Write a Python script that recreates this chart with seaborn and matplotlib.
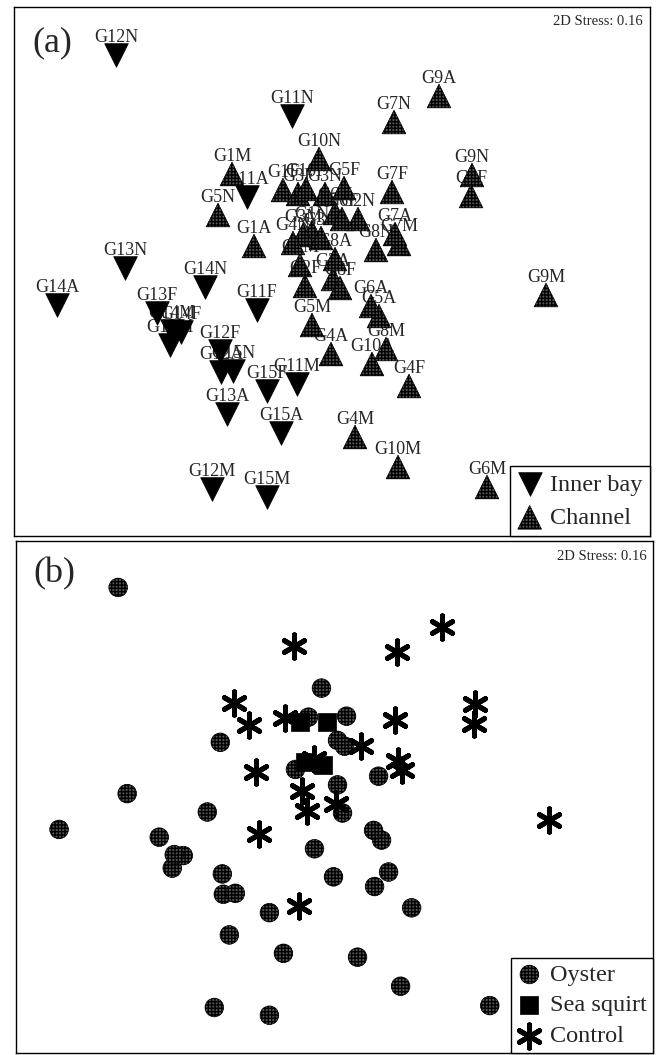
import numpy as np
import pandas as pd
import matplotlib
matplotlib.use("Agg")
import matplotlib.pyplot as plt
import seaborn as sns

# ---------------- data (NMDS coordinates) ----------------
samples = [
    "G11N", "G11A", "G11F", "G11M",
    "G12N", "G12F", "G12M", "G12A",
    "G13N", "G13F", "G13M", "G13A",
    "G14N", "G14F", "G14M", "G14A",
    "G15N", "G15F", "G15M", "G15A",
    "G1N", "G1F", "G1M", "G1A",
    "G2N", "G2F", "G2M", "G2A",
    "G3N", "G3F", "G3M", "G3A",
    "G4N", "G4F", "G4M", "G4A",
    "G5N", "G5F", "G5M", "G5A",
    "G6N", "G6F", "G6M", "G6A",
    "G7N", "G7F", "G7M", "G7A",
    "G8N", "G8F", "G8M", "G8A",
    "G9N", "G9F", "G9M", "G9A",
    "G10N", "G10F", "G10M", "G10A",
]
mds1 = [
    -0.38, -0.83, -0.73, -0.33,
    -2.14, -1.10, -1.18, -1.09,
    -2.05, -1.73, -1.60, -1.03,
    -1.25, -1.49, -1.58, -2.73,
    -0.97, -0.63, -0.63, -0.49,
    -0.18, -0.47, -0.98, -0.76,
    0.28, -0.25, -0.30, 0.03,
    -0.05, -0.32, -0.27, -0.09,
    -0.37, 0.79, 0.25, 0.01,
    -1.12, 0.14, -0.18, 0.49,
    0.05, 0.12, 1.57, 0.41,
    0.64, 0.62, 0.69, 0.65,
    0.46, 0.10, 0.56, 0.05,
    1.42, 1.41, 2.16, 1.09,
    -0.11, -0.24, 0.68, 0.42,
]
mds2 = [
    1.64, 0.83, -0.30, -1.04,
    2.25, -0.71, -2.09, -0.92,
    0.12, -0.33, -0.65, -1.34,
    -0.07, -0.52, -0.51, -0.25,
    -0.91, -1.11, -2.17, -1.53,
    0.48, 0.90, 1.06, 0.34,
    0.61, -0.06, 0.15, 0.01,
    0.86, 0.86, 0.45, 0.42,
    0.37, -1.06, -1.57, -0.74,
    0.65, 0.92, -0.45, -0.36,
    0.67, 0.61, -2.07, -0.26,
    1.58, 0.88, 0.36, 0.46,
    0.30, -0.08, -0.69, 0.21,
    1.05, 0.84, -0.15, 1.84,
    1.21, 0.91, -1.87, -0.84,
]
inner_bay_groups = [11, 12, 13, 14, 15]
control_groups = [1, 2, 7, 9, 11]
sea_squirt_groups = [3]
site_labels = ["Inner bay", "Channel"]
treatment_labels = ["Oyster", "Sea squirt", "Control"]
stress_text = "2D Stress: 0.16"

# ---------------- style ----------------
sns.set_style("white")
plt.rcParams["font.family"] = ["Liberation Serif", "DejaVu Serif"]
plt.rcParams["hatch.linewidth"] = 1.0
plt.rcParams["hatch.color"] = "black"

df = pd.DataFrame({"sample": samples, "MDS1": mds1, "MDS2": mds2})
df["group"] = df["sample"].str.extract(r"G(\d+)")[0].astype(int)
df["site"] = np.where(df["group"].isin(inner_bay_groups), "Inner bay", "Channel")
df["treatment"] = np.select(
    [df["group"].isin(sea_squirt_groups), df["group"].isin(control_groups)],
    ["Sea squirt", "Control"], default="Oyster")

W, H = 660, 1055
fig = plt.figure(figsize=(W / 100, H / 100), dpi=100)
ax_a = fig.add_axes([14 / W, 1 - 536 / H, 636 / W, 529 / H])
ax_b = fig.add_axes([16 / W, 2 / H, 637 / W, 512 / H])

xlim = (-3.16, 3.20)
ylim = (-2.56, 2.73)
GRAY = "#555555"
HATCH = "+++++"

# ---------------- panel (a) ----------------
sns.scatterplot(data=df[df["site"] == "Inner bay"], x="MDS1", y="MDS2", marker="v",
                s=290, color="black", edgecolor="black", linewidth=0.5,
                ax=ax_a, legend=False, zorder=3)
sns.scatterplot(data=df[df["site"] == "Channel"], x="MDS1", y="MDS2", marker="^",
                s=290, color=GRAY, edgecolor="black", linewidth=0.5, hatch=HATCH,
                ax=ax_a, legend=False, zorder=3)
for _, r in df.iterrows():
    ax_a.annotate(r["sample"], (r["MDS1"], r["MDS2"]), xytext=(0, 9.5),
                  textcoords="offset points", ha="center", va="baseline",
                  fontsize=13, zorder=2)

# ---------------- panel (b) ----------------
sns.scatterplot(data=df[df["treatment"] == "Oyster"], x="MDS1", y="MDS2", marker="o",
                s=180, color=GRAY, edgecolor="black", linewidth=0.5, hatch=HATCH,
                ax=ax_b, legend=False, zorder=3)
sns.scatterplot(data=df[df["treatment"] == "Sea squirt"], x="MDS1", y="MDS2", marker="s",
                s=180, color="black", edgecolor="black", linewidth=0.5,
                ax=ax_b, legend=False, zorder=3)
sns.scatterplot(data=df[df["treatment"] == "Control"], x="MDS1", y="MDS2", marker=(6, 2, 0),
                s=280, color="black", edgecolor="black", linewidth=3.6,
                ax=ax_b, legend=False, zorder=4)

# ---------------- decorations ----------------
for ax, tag, tagxy, sxy in [(ax_a, "(a)", (0.060, 0.932), (0.989, 0.972)),
                            (ax_b, "(b)", (0.060, 0.936), (0.990, 0.969))]:
    ax.set_xlim(*xlim)
    ax.set_ylim(*ylim)
    ax.set_xticks([])
    ax.set_yticks([])
    ax.set_xlabel("")
    ax.set_ylabel("")
    for sp in ax.spines.values():
        sp.set_color("black")
        sp.set_linewidth(1.0)
    ax.text(*tagxy, tag, transform=ax.transAxes, ha="center", va="center", fontsize=26)
    ax.text(*sxy, stress_text, transform=ax.transAxes, ha="right", va="center", fontsize=10.5)

leg_kw = dict(loc="lower right", borderaxespad=0, frameon=True, fancybox=False,
              edgecolor="black", framealpha=1, fontsize=17.5, handletextpad=0.35,
              handlelength=1.0, scatterpoints=1)
leg_a = ax_a.legend(handles=ax_a.collections[:2], labels=site_labels,
                    labelspacing=0.45, borderpad=0.3, **leg_kw)
leg_a.get_frame().set_linewidth(1.0)
leg_b = ax_b.legend(handles=ax_b.collections[:3], labels=treatment_labels,
                    labelspacing=0.35, borderpad=0.25, **leg_kw)
leg_b.get_frame().set_linewidth(1.0)

fig.savefig("out.png", dpi=100, facecolor="white")
